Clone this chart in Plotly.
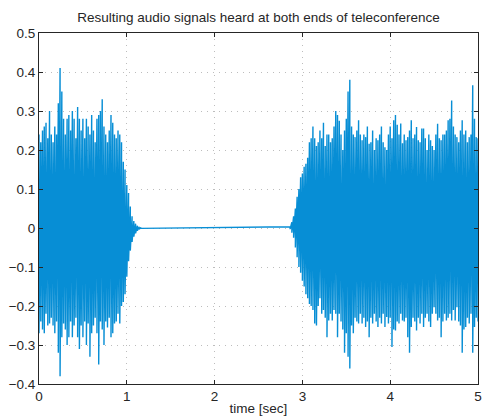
import numpy as np
import plotly.graph_objects as go

# Signal extremes per 0.02 s frame (upper / lower peak in each frame)
FRAME = 0.02

# First talker: 0.00 s ... 1.16 s
left_start = 0.00
left_upper = [
    0.24, 0.22, 0.25, 0.26, 0.27, 0.23, 0.30, 0.24, 0.22, 0.26,
    0.24, 0.32, 0.41, 0.35, 0.28, 0.24, 0.28, 0.29, 0.25, 0.30,
    0.28, 0.23, 0.31, 0.28, 0.25, 0.28, 0.23, 0.28, 0.26, 0.24,
    0.29, 0.25, 0.22, 0.28, 0.29, 0.30, 0.33, 0.26, 0.24, 0.22,
    0.25, 0.29, 0.27, 0.24, 0.23, 0.25, 0.24, 0.22, 0.17, 0.15,
    0.11, 0.09, 0.055, 0.03, 0.018, 0.011, 0.006, 0.003, 0.001,
]
left_lower = [
    -0.27, -0.24, -0.26, -0.27, -0.22, -0.25, -0.245, -0.23, -0.25, -0.27,
    -0.24, -0.32, -0.38, -0.28, -0.245, -0.26, -0.30, -0.28, -0.24, -0.28,
    -0.25, -0.23, -0.28, -0.31, -0.25, -0.28, -0.24, -0.30, -0.245, -0.33,
    -0.27, -0.25, -0.23, -0.27, -0.35, -0.24, -0.26, -0.30, -0.24, -0.255,
    -0.23, -0.28, -0.27, -0.245, -0.24, -0.22, -0.245, -0.20, -0.19, -0.17,
    -0.125, -0.085, -0.058, -0.036, -0.022, -0.014, -0.007, -0.003, -0.001,
]

# Second talker: 2.86 s ... 5.00 s
right_start = 2.86
right_upper = [
    0.003, 0.015, 0.03, 0.05, 0.08, 0.10, 0.13,
    0.14, 0.157, 0.165, 0.18, 0.22, 0.23, 0.26, 0.23, 0.21, 0.22,
    0.25, 0.23, 0.27, 0.21, 0.24, 0.24, 0.22, 0.23, 0.26, 0.30,
    0.29, 0.275, 0.24, 0.20, 0.25, 0.28, 0.35, 0.38, 0.26, 0.24,
    0.233, 0.25, 0.276, 0.24, 0.225, 0.24, 0.233, 0.26, 0.216, 0.22,
    0.25, 0.20, 0.23, 0.225, 0.24, 0.26, 0.22, 0.207, 0.20, 0.24,
    0.26, 0.23, 0.276, 0.29, 0.265, 0.24, 0.268, 0.217, 0.24, 0.225,
    0.233, 0.25, 0.276, 0.23, 0.24, 0.259, 0.225, 0.22, 0.255, 0.255,
    0.23, 0.20, 0.24, 0.225, 0.21, 0.20, 0.24, 0.267, 0.23, 0.225,
    0.24, 0.24, 0.25, 0.276, 0.28, 0.327, 0.26, 0.24, 0.233, 0.22,
    0.25, 0.276, 0.24, 0.25, 0.22, 0.233, 0.24, 0.366, 0.28, 0.233,
    0.23,
]
right_lower = [
    -0.003, -0.012, -0.025, -0.05, -0.075, -0.10, -0.115,
    -0.135, -0.15, -0.17, -0.18, -0.195, -0.20, -0.21, -0.245, -0.25, -0.20,
    -0.18, -0.22, -0.21, -0.23, -0.28, -0.237, -0.22, -0.237, -0.21, -0.22,
    -0.28, -0.22, -0.24, -0.26, -0.32, -0.27, -0.33, -0.36, -0.25, -0.27,
    -0.23, -0.24, -0.245, -0.22, -0.245, -0.23, -0.254, -0.24, -0.28, -0.23,
    -0.245, -0.22, -0.24, -0.254, -0.23, -0.245, -0.22, -0.254, -0.228, -0.245,
    -0.23, -0.305, -0.26, -0.263, -0.24, -0.245, -0.22, -0.237, -0.24, -0.23,
    -0.28, -0.32, -0.254, -0.23, -0.24, -0.263, -0.23, -0.245, -0.22, -0.254,
    -0.23, -0.22, -0.24, -0.254, -0.22, -0.203, -0.22, -0.237, -0.23, -0.28,
    -0.24, -0.22, -0.237, -0.23, -0.22, -0.237, -0.21, -0.237, -0.203, -0.24,
    -0.25, -0.32, -0.26, -0.254, -0.23, -0.245, -0.22, -0.32, -0.254, -0.23,
    -0.24,
]

x_ticks = [0, 1, 2, 3, 4, 5]
y_ticks = [-0.4, -0.3, -0.2, -0.1, 0, 0.1, 0.2, 0.3, 0.4, 0.5]
y_tick_text = [f"{v:g}".replace("-", "\u2212") for v in y_ticks]


def frames_to_trace(start, upper, lower):
    """Each frame becomes a vertical stroke from its upper to its lower peak."""
    t = start + FRAME * np.arange(len(upper))
    xs = np.repeat(t, 2)
    ys = np.empty(2 * len(upper))
    ys[0::2] = upper
    ys[1::2] = lower
    return xs, ys


xl, yl = frames_to_trace(left_start, left_upper, left_lower)
xr, yr = frames_to_trace(right_start, right_upper, right_lower)
x = np.concatenate([xl, xr])
y = np.concatenate([yl, yr])

BLUE = "#078ed5"
AXIS = "#262626"
GRID = "#bdbdbd"
FONT = "Liberation Sans, Arial, sans-serif"

fig = go.Figure(
    go.Scatter(x=x, y=y, mode="lines",
               line=dict(color=BLUE, width=1.4, simplify=False),
               hoverinfo="skip")
)

axis_common = dict(
    showline=True, linecolor=AXIS, linewidth=1, mirror="ticks",
    ticks="inside", ticklen=4, tickwidth=1, tickcolor=AXIS,
    showgrid=True, gridcolor=GRID, griddash="1px,5px", gridwidth=1,
    zeroline=False, tickfont=dict(family=FONT, size=13.5, color=AXIS),
    ticklabeloverflow="allow",
)

fig.update_xaxes(range=[0, 5], tickvals=x_ticks,
                 title=dict(text="time [sec]", standoff=0,
                            font=dict(family=FONT, size=13.5, color=AXIS)),
                 **axis_common)
fig.update_yaxes(range=[-0.4, 0.5], tickvals=y_ticks, ticktext=y_tick_text,
                 **axis_common)

fig.update_layout(
    width=485, height=419,
    margin=dict(l=39, r=3, t=33, b=35),
    paper_bgcolor="white", plot_bgcolor="white",
    showlegend=False,
    title=dict(text="Resulting audio signals heard at both ends of teleconference",
               xref="paper", x=0.5, xanchor="center",
               yref="container", y=0.958, yanchor="middle",
               font=dict(family=FONT, size=13.5, color=AXIS)),
)

fig.write_html("out.html")
